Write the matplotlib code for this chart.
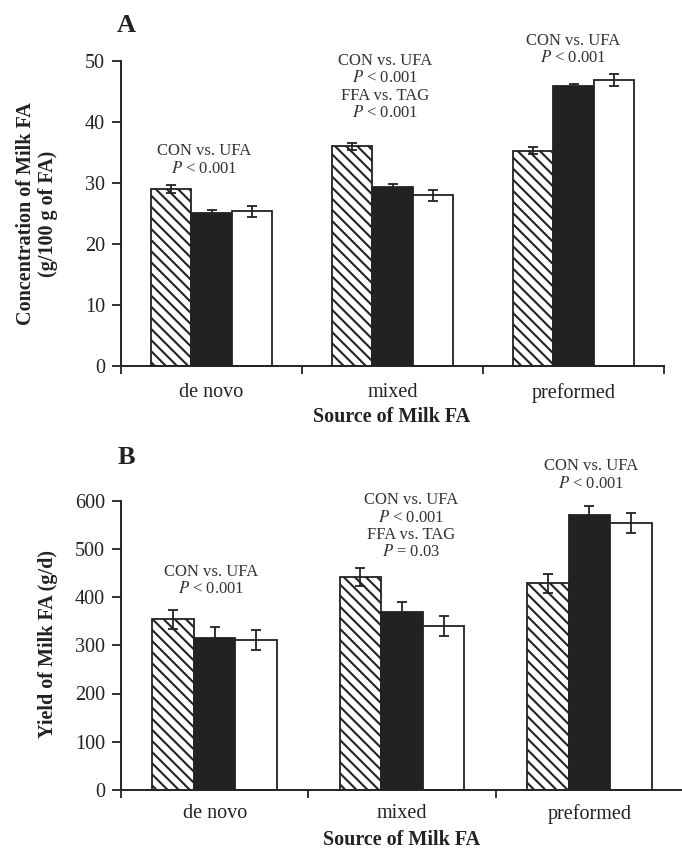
import numpy as np
import matplotlib
matplotlib.use('Agg')
import matplotlib.pyplot as plt

plt.rcParams['font.family'] = ['Liberation Serif', 'DejaVu Serif']
plt.rcParams['mathtext.fontset'] = 'stix'
plt.rcParams['hatch.linewidth'] = 1.5
plt.rcParams['hatch.color'] = '#222222'

sources = ['de novo', 'mixed', 'preformed']
series = ['CON', 'FFA', 'TAG']

# panel A: concentration of milk FA (g/100 g of FA)
conc_con = [29.0, 36.0, 35.3]
conc_ffa = [25.1, 29.3, 45.9]
conc_tag = [25.4, 28.0, 46.9]
conc_con_se = [0.6, 0.6, 0.6]
conc_ffa_se = [0.45, 0.5, 0.35]
conc_tag_se = [0.9, 0.9, 1.0]
conc_notes = ['CON vs. UFA\n$P$ < 0.001',
              'CON vs. UFA\n$P$ < 0.001\nFFA vs. TAG\n$P$ < 0.001',
              'CON vs. UFA\n$P$ < 0.001']

# panel B: yield of milk FA (g/d)
yield_con = [354, 442, 428]
yield_ffa = [316, 369, 570]
yield_tag = [311, 340, 554]
yield_con_se = [20, 19, 19]
yield_ffa_se = [21, 20, 19]
yield_tag_se = [21, 21, 21]
yield_notes = ['CON vs. UFA\n$P$ < 0.001',
               'CON vs. UFA\n$P$ < 0.001\nFFA vs. TAG\n$P$ = 0.03',
               'CON vs. UFA\n$P$ < 0.001']

W, H = 682, 849
fig = plt.figure(figsize=(W/100, H/100), dpi=100)

def px(x0, y0, x1, y1):
    return [x0/W, 1-y1/H, (x1-x0)/W, (y1-y0)/H]

axA = fig.add_axes(px(121, 61, 664, 366))
axB = fig.add_axes(px(121, 500.5, 683, 790))

ink = '#222222'
w = 0.222
styles = [dict(color='white', hatch='\\\\\\'),
          dict(color=ink),
          dict(color='white')]

def panel(ax, vals, errs, notes, note_x, note_y, ymax, step, lab_pad):
    x = np.arange(3) + 0.5
    for j in range(3):
        ax.bar(x + (j-1)*w, vals[j], w, yerr=errs[j], label=series[j],
               edgecolor=ink, linewidth=1.3, zorder=2,
               error_kw=dict(ecolor=ink, elinewidth=1.3, capsize=3.5, capthick=1.3, zorder=3),
               **styles[j])
    for k in range(3):
        ax.text(note_x[k], note_y[k], notes[k], ha='center', va='center',
                fontsize=12, linespacing=1.12, color='#333333', clip_on=False)
    ax.set_xlim(0, 3)
    ax.set_ylim(0, ymax)
    ax.set_yticks(np.arange(0, ymax+1, step))
    ax.set_xticks([0, 1, 2, 3])
    ax.set_xticklabels([])
    ax.set_xticks(x, sources, minor=True)
    ax.tick_params(axis='x', which='major', direction='out', length=5.5, width=1.3, color=ink)
    ax.tick_params(axis='x', which='minor', length=0, pad=lab_pad, labelsize=14.5, labelcolor='#222222')
    ax.tick_params(axis='y', direction='out', length=6.5, width=1.3, color=ink,
                   pad=5, labelsize=14.5, labelcolor='#222222')
    for s in ['top', 'right']:
        ax.spines[s].set_visible(False)
    for s in ['left', 'bottom']:
        ax.spines[s].set_linewidth(1.4)
        ax.spines[s].set_color(ink)

panel(axA, [conc_con, conc_ffa, conc_tag], [conc_con_se, conc_ffa_se, conc_tag_se],
      conc_notes, [0.46, 1.46, 2.50], [33.8, 45.75, 51.85], 50, 10, 12)
panel(axB, [yield_con, yield_ffa, yield_tag], [yield_con_se, yield_ffa_se, yield_tag_se],
      yield_notes, [0.48, 1.55, 2.51], [434, 546.5, 652.5], 600, 100, 10)

bold = dict(fontweight='bold', fontsize=14.5, color='#222222')
fig.text(37/W, 1-214/H, 'Concentration of Milk FA\n(g/100 g of FA)', rotation=90,
         ha='center', va='center', linespacing=1.1, **bold)
fig.text(392/W, 1-417/H, 'Source of Milk FA', ha='center', va='center', **bold)
fig.text(48/W, 1-644/H, 'Yield of Milk FA (g/d)', rotation=90, ha='center', va='center', **bold)
fig.text(402/W, 1-840/H, 'Source of Milk FA', ha='center', va='center', **bold)

fig.text(126/W, 1-25/H, 'A', ha='center', va='center', fontsize=19, fontweight='bold', color='#222222')
fig.text(126/W, 1-457/H, 'B', ha='center', va='center', fontsize=19, fontweight='bold', color='#222222')

fig.savefig('out.png', dpi=100)
